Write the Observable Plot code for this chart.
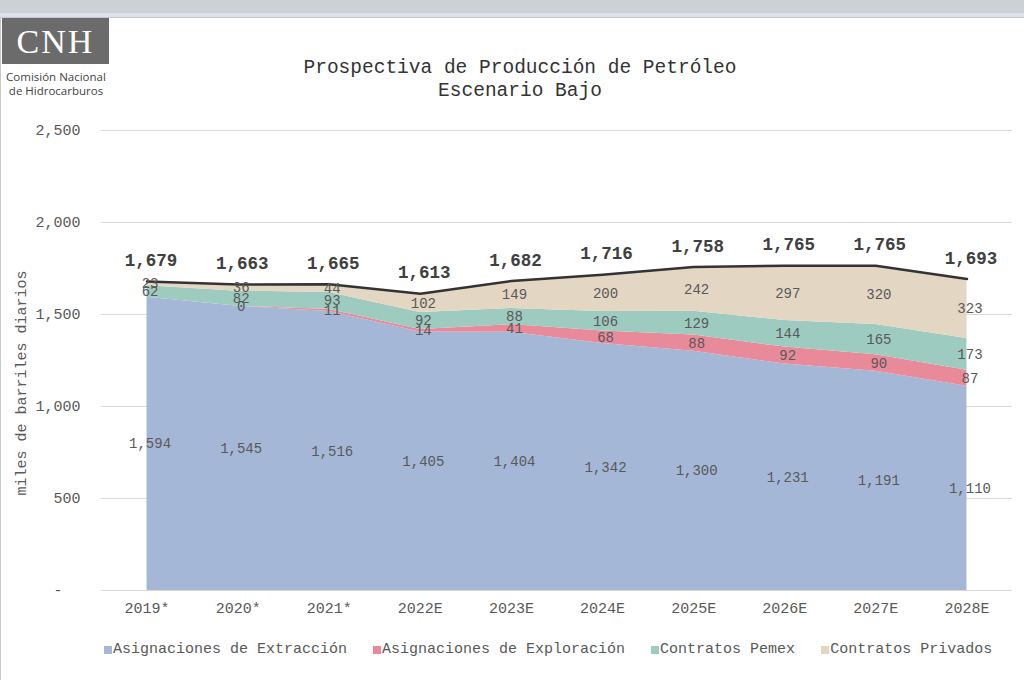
<!DOCTYPE html>
<html>
<head>
<meta charset="utf-8">
<script src="https://cdn.jsdelivr.net/npm/d3@7"></script>
<script src="https://cdn.jsdelivr.net/npm/@observablehq/plot@0.6"></script>
<style>
  html, body { margin: 0; padding: 0; background: #fff; }
  body { width: 1024px; height: 680px; position: relative; overflow: hidden; font-family: "Liberation Mono", monospace; }
  #chrome { position: absolute; left: 0; top: 0; width: 1024px; height: 13px; background: #cdd0d4; }
  #bar { position: absolute; left: 0; top: 13px; width: 1024px; height: 4px; background: #dde2ea; border-bottom: 1px solid #c3c8d0; }
  #leftline { position: absolute; left: 0; top: 17px; width: 1px; height: 663px; background: #c8c8c8; }
  #chart { position: absolute; left: 0; top: 0; }
  #logo { position: absolute; left: 2px; top: 18px; width: 107px; height: 46px; background: #6b6b6b; color: #fff;
          font-family: "Liberation Serif", serif; font-size: 34px; letter-spacing: 2px; line-height: 48px; text-align: center; font-weight: normal; }
  #logotext { position: absolute; left: 1px; top: 70px; width: 110px; text-align: center; font-family: "Open Sans", sans-serif;
              font-size: 11.5px; line-height: 14px; color: #444; }
  #title { position: absolute; left: 0; top: 57px; width: 1040px; text-align: center; font-size: 19.5px; line-height: 23px; color: #333; white-space: pre; }
  #ylabel { position: absolute; left: 22px; top: 383px; transform: translate(-50%, -50%) rotate(-90deg); font-size: 15px; color: #595959; white-space: nowrap; }
  #legend { position: absolute; left: 104px; top: 641px; display: flex; gap: 26px; font-size: 15px; color: #595959; white-space: nowrap; }
  #legend .item { display: flex; align-items: center; }
  #legend .sw { width: 8px; height: 8px; margin-right: 1px; }
</style>
</head>
<body>
<div id="chart"></div>
<div id="chrome"></div>
<div id="bar"></div>
<div id="leftline"></div>
<div id="logo">CNH</div>
<div id="logotext">Comisión Nacional<br>de Hidrocarburos</div>
<div id="title">Prospectiva de Producción de Petróleo
Escenario Bajo</div>
<div id="ylabel">miles de barriles diarios</div>
<div id="legend"></div>
<script>
const years = ["2019*", "2020*", "2021*", "2022E", "2023E", "2024E", "2025E", "2026E", "2027E", "2028E"];
const seriesNames = ["Asignaciones de Extracción", "Asignaciones de Exploración", "Contratos Pemex", "Contratos Privados"];
const seriesColors = ["#a4b7d6", "#e98a9b", "#9ecbbf", "#e3d6c3"];
const extraccion = [1594, 1545, 1516, 1405, 1404, 1342, 1300, 1231, 1191, 1110];
const exploracion = [null, 0, 11, 14, 41, 68, 88, 92, 90, 87];
const pemex = [62, 82, 93, 92, 88, 106, 129, 144, 165, 173];
const privados = [23, 36, 44, 102, 149, 200, 242, 297, 320, 323];
const totals = [1679, 1663, 1665, 1613, 1682, 1716, 1758, 1765, 1765, 1693];
const yTicks = [0, 500, 1000, 1500, 2000, 2500];

const seriesValues = [extraccion, exploracion, pemex, privados];
const rows = [];
seriesNames.forEach((s, k) => {
  seriesValues[k].forEach((v, i) => rows.push({i, series: s, value: v}));
});
const totalRows = totals.map((t, i) => ({i, total: t}));
const fmt = d3.format(",");
const xIdx = years.map((_, i) => i);

const plot = Plot.plot({
  width: 1024,
  height: 680,
  marginTop: 130,
  marginBottom: 90,
  marginLeft: 101,
  marginRight: 12,
  style: {fontFamily: "Liberation Mono, monospace", fontSize: "15px", color: "#595959", background: "transparent"},
  x: {type: "linear", domain: [-0.5, years.length - 0.5], axis: null, label: null},
  y: {domain: [0, 2500], axis: null, label: null},
  color: {domain: seriesNames, range: seriesColors},
  marks: [
    Plot.ruleY(yTicks, {stroke: "#d9d9d9", strokeWidth: 1}),
    Plot.areaY(rows, {x: "i", y: d => d.value ?? 0, z: "series", fill: "series", fillOpacity: 1, curve: "linear"}),
    Plot.line(totalRows, {x: "i", y: "total", stroke: "#333", strokeWidth: 2.5}),
    Plot.text(rows, Plot.stackY({x: "i", y: d => d.value ?? 0, z: "series", text: d => d.value == null ? "" : fmt(d.value),
      fill: "#595959", fontSize: 14, dx: 3})),
    Plot.text(totalRows, {x: "i", y: "total", text: d => fmt(d.total), dy: -21, dx: 4, fill: "#404040", fontSize: 17.5, fontWeight: "bold"}),
    Plot.axisY({ticks: yTicks, tickSize: 0, tickPadding: 21, label: null, tickFormat: d => d === 0 ? "-\u00a0\u00a0" : fmt(d), fontSize: 15}),
    Plot.axisX({ticks: xIdx, tickSize: 0, tickPadding: 12, label: null, tickFormat: i => years[i], fontSize: 15})
  ]
});
document.getElementById("chart").appendChild(plot);

const legend = document.getElementById("legend");
seriesNames.forEach((s, k) => {
  const it = document.createElement("div");
  it.className = "item";
  const sw = document.createElement("span");
  sw.className = "sw";
  sw.style.background = seriesColors[k];
  const tx = document.createElement("span");
  tx.textContent = s;
  it.appendChild(sw); it.appendChild(tx);
  legend.appendChild(it);
});
</script>
</body>
</html>
